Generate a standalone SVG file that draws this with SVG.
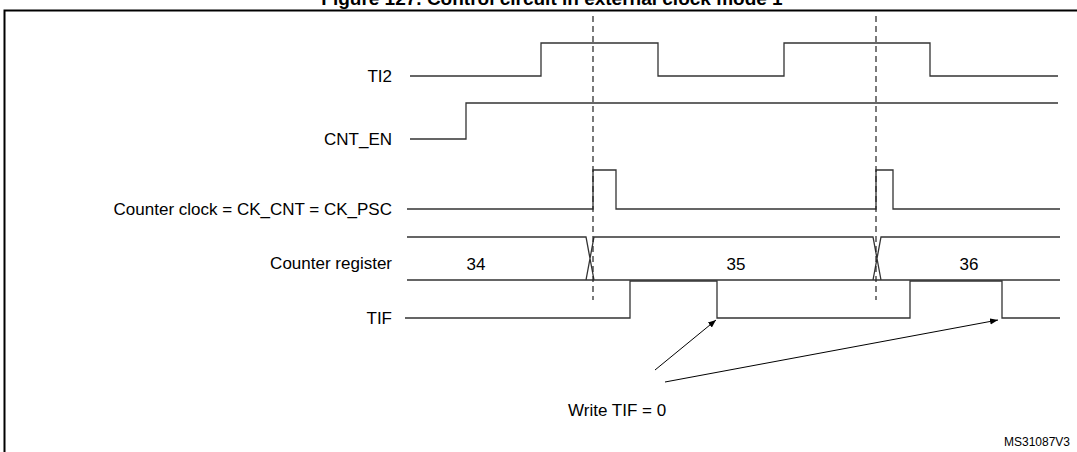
<svg xmlns="http://www.w3.org/2000/svg" width="1077" height="452" viewBox="0 0 1077 452">
<defs>
<style>
.w{fill:none;stroke:#333;stroke-width:1.3}
.d{fill:none;stroke:#222;stroke-width:1.2;stroke-dasharray:6,4}
.l{font-family:"Liberation Sans",Arial,sans-serif;font-size:17px;fill:#000;text-anchor:end}
.v{font-family:"Liberation Sans",Arial,sans-serif;font-size:17px;fill:#000;text-anchor:middle}
</style>
<marker id="a" viewBox="0 0 10 10" refX="10" refY="5" markerWidth="8" markerHeight="8" orient="auto"><path d="M0,1L10,5L0,9z" fill="#000"/></marker>
</defs>
<rect width="1077" height="452" fill="#fff"/>
<text x="552" y="5" text-anchor="middle" font-family="Liberation Sans,Arial,sans-serif" font-weight="bold" font-size="19">Figure 127. Control circuit in external clock mode 1</text>
<rect x="4.5" y="10.5" width="1080" height="450" fill="none" stroke="#000" stroke-width="2"/>
<g id="labels">
<text class="l" x="392" y="82">TI2</text>
<text class="l" x="392" y="145">CNT_EN</text>
<text class="l" x="392" y="215">Counter clock = CK_CNT = CK_PSC</text>
<text class="l" x="392" y="269">Counter register</text>
<text class="l" x="392" y="324">TIF</text>
</g>
<g id="TI2"><path class="w" d="M410,76H541V43H658V76H784V43H930V76H1058"/></g>
<g id="CNT_EN"><path class="w" d="M410,139H466V103H1058"/></g>
<g id="clock"><path class="w" d="M407,209H593V170H616V209H876V170H893V209H1060"/></g>
<g id="register">
<path class="w" d="M407,237H586L594,280H407M1060,237H881L873,280H1060M586,280L594,237H873L881,280H594"/>
<text class="v" x="476" y="270">34</text>
<text class="v" x="736" y="270">35</text>
<text class="v" x="969" y="270">36</text>
</g>
<g id="TIF"><path class="w" d="M405,318H630V281H717V318H910V281H1002V318H1060"/></g>
<g id="connectors">
<path class="d" d="M593,16V300M876,16V300"/>
<path d="M655,370L716,320" stroke="#000" fill="none" marker-end="url(#a)"/>
<path d="M665,382L998,320" stroke="#000" fill="none" marker-end="url(#a)"/>
</g>
<text x="568" y="416" font-family="Liberation Sans,Arial,sans-serif" font-size="17">Write TIF = 0</text>
<text x="1070" y="446" text-anchor="end" font-family="Liberation Sans,Arial,sans-serif" font-size="12">MS31087V3</text>
</svg>
